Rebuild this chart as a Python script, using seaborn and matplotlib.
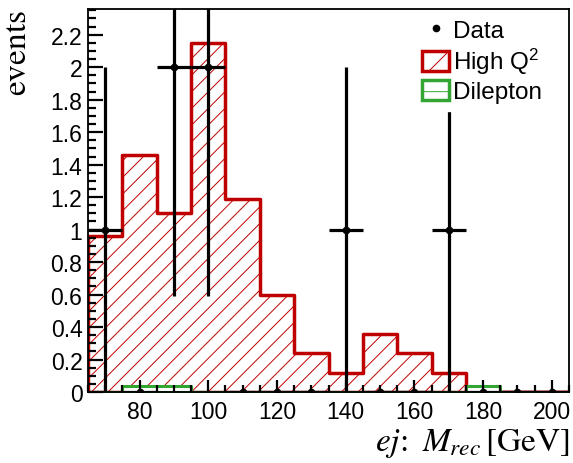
"""Reconstructed mass distribution: data vs High Q^2 and Dilepton expectations."""
import matplotlib
matplotlib.use("Agg")
import matplotlib.pyplot as plt
import matplotlib.patches as mpatches
from matplotlib.lines import Line2D
from matplotlib.ticker import MultipleLocator, FormatStrFormatter
import seaborn as sns

# --- data ---
bin_edges = [65, 75, 85, 95, 105, 115, 125, 135, 145, 155, 165, 175, 185, 195, 205]
bin_centers = [70, 80, 90, 100, 110, 120, 130, 140, 150, 160, 170, 180, 190, 200]
high_q2 = [0.96, 1.46, 1.10, 2.15, 1.19, 0.60, 0.24, 0.12, 0.36, 0.24, 0.12, 0, 0, 0]
dilepton = [0, 0.04, 0.04, 0, 0, 0, 0, 0, 0, 0, 0, 0.04, 0, 0]
data_counts = [1, 0, 2, 2, 0, 0, 0, 1, 0, 0, 1, 0, 0, 0]
data_err = [1, 0, 1.41, 1.41, 0, 0, 0, 1, 0, 0, 1, 0, 0, 0]
bin_half_width = 5

RED = '#c00000'
GREEN = '#33a532'

sns.set_style('ticks')
plt.rcParams['font.family'] = ['Liberation Sans', 'DejaVu Sans']
plt.rcParams['mathtext.fontset'] = 'stix'
plt.rcParams['hatch.linewidth'] = 0.7
plt.rcParams['hatch.color'] = RED
for key in ['text.color', 'axes.labelcolor', 'xtick.color', 'ytick.color',
            'axes.edgecolor']:
    plt.rcParams[key] = 'black'

fig = plt.figure(figsize=(5.73, 4.64), dpi=100)
ax = fig.add_axes([0.1536, 0.153, 0.8394, 0.825])

sns.histplot(x=bin_centers, weights=high_q2, bins=bin_edges, element='step',
             fill=True, color=RED, facecolor='none', alpha=1, linewidth=2.5,
             hatch='//', ax=ax, zorder=1)
sns.histplot(x=bin_centers, weights=dilepton, bins=bin_edges, element='step',
             fill=True, color=GREEN, facecolor='white', alpha=1, linewidth=2.2,
             ax=ax, zorder=2)

ax.errorbar(bin_centers, data_counts, xerr=bin_half_width, yerr=data_err,
            fmt='o', color='black', ms=4.5, lw=2.3, capsize=0, zorder=3)

ax.set_xlim(65, 205)
ax.set_ylim(0, 2.357)
ax.set_axisbelow(False)

ax.xaxis.set_major_locator(MultipleLocator(20))
ax.xaxis.set_minor_locator(MultipleLocator(5))
ax.yaxis.set_major_locator(MultipleLocator(0.2))
ax.yaxis.set_minor_locator(MultipleLocator(0.05))
ax.yaxis.set_major_formatter(FormatStrFormatter('%g'))

ax.tick_params(axis='both', which='both', direction='in', top=False, right=False,
               labelsize=16.5, width=1.6, color='black')
ax.tick_params(axis='x', which='major', length=9, pad=6)
ax.tick_params(axis='x', which='minor', length=5)
ax.tick_params(axis='y', which='major', length=11, pad=4)
ax.tick_params(axis='y', which='minor', length=6)

for side in ['left', 'bottom', 'top', 'right']:
    ax.spines[side].set_visible(True)
    ax.spines[side].set_linewidth(1.3)
    ax.spines[side].set_zorder(4)

ax.set_xlabel(r'$ej\!:\ M_{rec}\,[\mathrm{GeV}]$', loc='right', fontsize=24,
              labelpad=2)
ax.set_ylabel(r'$\mathrm{events}$', loc='top', fontsize=24, labelpad=13)

handles = [
    Line2D([], [], marker='o', color='black', ms=4.5, lw=0),
    mpatches.Patch(facecolor='white', edgecolor=RED, hatch='/', lw=2.5),
    mpatches.Patch(facecolor='white', edgecolor=GREEN, hatch='-', lw=2.5),
]
labels = ['Data', r'High $\mathregular{Q^{2}}$', 'Dilepton']
leg = ax.legend(handles, labels, loc='upper left', bbox_to_anchor=(0.675, 1.0),
                fontsize=17.5, frameon=True, fancybox=False, framealpha=1,
                facecolor='white', edgecolor='white', handlelength=1.1,
                handleheight=0.9, handletextpad=0.15, labelspacing=0.15,
                borderpad=0.3, borderaxespad=0.1)
leg.set_zorder(5)

fig.savefig('out.png', dpi=100, facecolor='white')
